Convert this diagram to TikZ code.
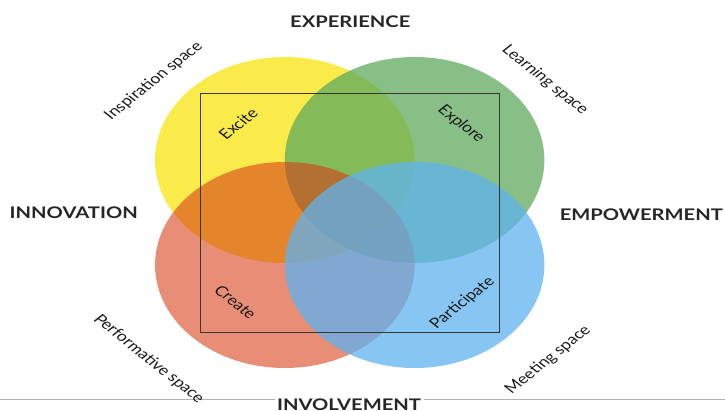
\documentclass[tikz,border=0pt]{standalone}
\usepackage{fontspec}
\setmainfont{Lato}
\definecolor{ringyellow}{RGB}{250,235,75}
\definecolor{ringgreen}{RGB}{95,170,95}
\definecolor{ringred}{RGB}{215,60,20}
\definecolor{ringblue}{RGB}{95,178,238}
\definecolor{framegray}{RGB}{55,55,50}
\begin{document}
\begin{tikzpicture}[
  x=1pt, y=-1pt, xscale=1.26,
  every node/.style={transform shape},
  ring/.style={radius=103pt},
  frame/.style={framegray, line width=0.7pt},
  rule/.style={gray!60, line width=0.6pt},
  heading/.style={font=\fontsize{16}{18}\selectfont\bfseries, text=black!85},
  space/.style={font=\fontsize{14}{16}\selectfont, text=black!90},
  action/.style={font=\fontsize{14}{16}\selectfont, text=black!90}
]
  \useasboundingbox (0,0) rectangle (575.4,410);

  % Define the centre of the figure
  \coordinate (C) at (277.5,212.5);

  % Draw the four overlapping rings
  \fill[ringyellow] ([shift={(-51.5,-52.5)}]C) circle[ring];
  \fill[ringgreen, opacity=0.75] ([shift={(51.5,-52.5)}]C) circle[ring];
  \fill[ringred, opacity=0.58] ([shift={(-51.5,52.5)}]C) circle[ring];
  \fill[ringblue, opacity=0.75] ([shift={(51.5,52.5)}]C) circle[ring];

  % Draw the square frame
  \draw[frame] ([shift={(-118.5,-119.5)}]C) rectangle ([shift={(118.5,119.5)}]C);

  % Draw the scanned rule along the bottom
  \draw[rule] (0,399) -- (575.4,399);

  % Labels for the four directions
  \node[heading] (exp) at (278,22) {EXPERIENCE};
  \node[heading] (inno) at (58.5,213) {INNOVATION};
  \node[heading] (emp) at (509,215) {EMPOWERMENT};
  \node[heading, fill=white, inner sep=2pt] (invo) at (277,404.5) {INVOLVEMENT};

  % Labels for the four spaces
  \node[space, rotate=45] (insp) at (122,81) {Inspiration space};
  \node[space, rotate=-45] (learn) at (432.5,80) {Learning space};
  \node[space, rotate=-45] (perf) at (118,359) {Performative space};
  \node[space, rotate=45] (meet) at (435,360) {Meeting space};

  % Labels inside the frame corners
  \node[action, rotate=45] (excite) at (189,124) {Excite};
  \node[action, rotate=-45] (explore) at (366,124) {Explore};
  \node[action, rotate=-45] (create) at (187,302) {Create};
  \node[action, rotate=45] (particip) at (367,303) {Participate};

\end{tikzpicture}
\end{document}
